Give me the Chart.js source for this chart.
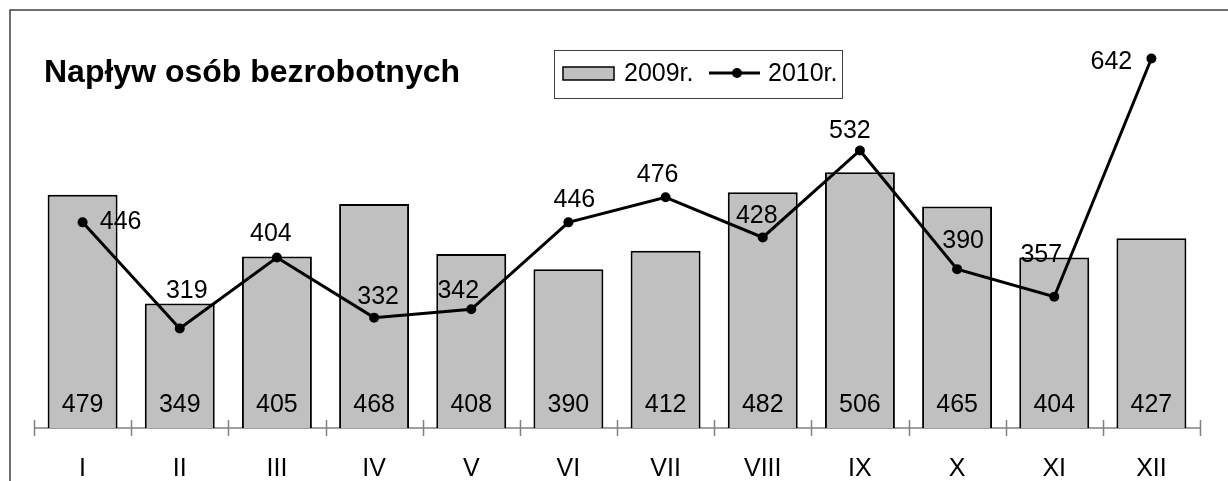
<!DOCTYPE html>
<html>
<head>
<meta charset="utf-8">
<script src="https://cdn.jsdelivr.net/npm/chart.js@4.4.1/dist/chart.umd.min.js"></script>
<style>
  html, body { margin: 0; padding: 0; background: #fff; }
  #wrap { width: 1228px; height: 481px; }
</style>
</head>
<body>
<div id="wrap"><canvas id="chart" width="1228" height="481"></canvas></div>
<script>
// miesiące
const months = ['I', 'II', 'III', 'IV', 'V', 'VI', 'VII', 'VIII', 'IX', 'X', 'XI', 'XII'];
// napływ bezrobotnych 2009
const values2009 = [479, 349, 405, 468, 408, 390, 412, 482, 506, 465, 404, 427];
// napływ bezrobotnych 2010
const values2010 = [446, 319, 404, 332, 342, 446, 476, 428, 532, 390, 357, 642];

const chartTitle = 'Napływ osób bezrobotnych';
const seriesNames = ['2009r.', '2010r.'];

// przesunięcia etykiet linii (dx, dy) względem punktu
const lineLabelShift = [
    [38, 0], [7, -37], [-6, -23], [4, -21], [-13, -18], [6, -22],
    [-8, -22], [-6, -21], [-10, -19], [6, -28], [-13, -42], [-40, 4]
];

const FONT = '"Liberation Sans", Arial, sans-serif';

// ramka, tytuł, legenda, oś
const decorations = {
    id: 'decorations',
    beforeDatasetsDraw(chart) {
        const ctx = chart.ctx;
        const area = chart.chartArea;
        ctx.save();
        // ramka
        ctx.strokeStyle = '#404040';
        ctx.lineWidth = 1.5;
        ctx.beginPath();
        ctx.moveTo(10, 481);
        ctx.lineTo(10, 10);
        ctx.lineTo(1228, 10);
        ctx.stroke();
        // oś x z kreskami
        ctx.strokeStyle = '#808080';
        ctx.lineWidth = 1.5;
        ctx.beginPath();
        ctx.moveTo(area.left, area.bottom);
        ctx.lineTo(area.right, area.bottom);
        const step = (area.right - area.left) / months.length;
        for (let i = 0; i <= months.length; i++) {
            const tx = Math.round(area.left + i * step) + 0.5;
            ctx.moveTo(tx, area.bottom - 8);
            ctx.lineTo(tx, area.bottom + 8);
        }
        ctx.stroke();
        ctx.restore();
    },
    afterDraw(chart) {
        const ctx = chart.ctx;
        const area = chart.chartArea;
        const barMeta = chart.getDatasetMeta(0);
        const lineMeta = chart.getDatasetMeta(1);
        ctx.save();
        ctx.fillStyle = '#000';
        ctx.textAlign = 'center';
        ctx.textBaseline = 'middle';
        ctx.font = '25px ' + FONT;
        barMeta.data.forEach((bar, i) => {
            ctx.fillText(String(values2009[i]), bar.x, area.bottom - 23);
        });
        lineMeta.data.forEach((pt, i) => {
            const s = lineLabelShift[i];
            ctx.fillText(String(values2010[i]), pt.x + s[0], pt.y + s[1]);
        });

        // tytuł
        ctx.textAlign = 'left';
        ctx.font = 'bold 32px ' + FONT;
        ctx.fillText(chartTitle, 44, 73);

        // legenda
        ctx.strokeStyle = '#404040';
        ctx.lineWidth = 1;
        ctx.strokeRect(554.5, 50.5, 288, 48);
        ctx.fillStyle = '#c0c0c0';
        ctx.fillRect(563, 67, 51, 13);
        ctx.strokeStyle = '#000';
        ctx.lineWidth = 1.5;
        ctx.strokeRect(563, 67, 51, 13);
        ctx.fillStyle = '#000';
        ctx.font = '25px ' + FONT;
        ctx.fillText(seriesNames[0], 624, 74);
        ctx.lineWidth = 3;
        ctx.beginPath();
        ctx.moveTo(709, 73);
        ctx.lineTo(760, 73);
        ctx.stroke();
        ctx.beginPath();
        ctx.arc(737, 73, 5, 0, Math.PI * 2);
        ctx.fill();
        ctx.fillText(seriesNames[1], 768, 74);
        ctx.restore();
    }
};

const config = {
    data: {
        labels: months,
        datasets: [
            {
                type: 'bar',
                label: seriesNames[0],
                data: values2009,
                backgroundColor: '#c0c0c0',
                borderColor: '#000',
                borderWidth: 2,
                barPercentage: 0.72,
                categoryPercentage: 1,
                order: 1
            },
            {
                type: 'line',
                label: seriesNames[1],
                data: values2010,
                borderColor: '#000',
                backgroundColor: '#000',
                borderWidth: 3,
                pointRadius: 5,
                pointBackgroundColor: '#000',
                pointBorderWidth: 0,
                tension: 0,
                order: 0
            }
        ]
    },
    options: {
        responsive: false,
        animation: false,
        layout: { padding: { left: 34, right: 28, top: 10, bottom: 0 } },
        plugins: {
            legend: { display: false },
            title: { display: false },
            tooltip: { enabled: false }
        },
        scales: {
            x: {
                grid: { display: false },
                border: { display: false },
                ticks: {
                    color: '#000',
                    padding: 18,
                    font: { size: 25, family: FONT }
                },
                afterFit(scale) { scale.height = 53; }
            },
            y: {
                display: false,
                min: 200,
                max: 700
            }
        }
    },
    plugins: [decorations]
};

const ctx = document.getElementById('chart').getContext('2d');
new Chart(ctx, config);
</script>
</body>
</html>
